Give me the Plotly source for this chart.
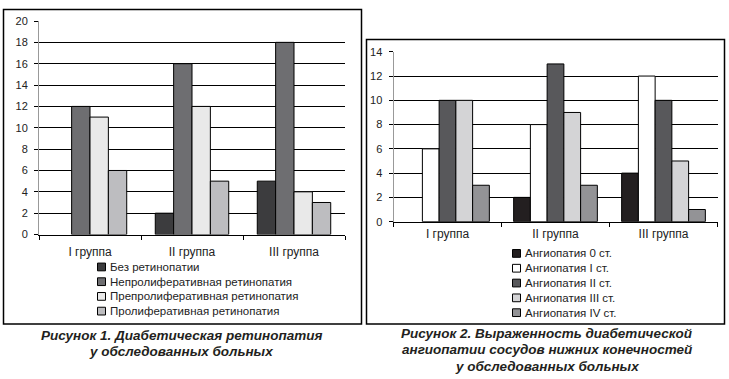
import plotly.graph_objects as go

W, H = 729, 379

# ---------- data ----------
groups = ["I группа", "II группа", "III группа"]

retino_names = ["Без ретинопатии", "Непролиферативная ретинопатия",
                "Препролиферативная ретинопатия", "Пролиферативная ретинопатия"]
retino_none = [0, 2, 5]
retino_nonprolif = [12, 16, 18]
retino_preprolif = [11, 12, 4]
retino_prolif = [6, 5, 3]
retino_values = [retino_none, retino_nonprolif, retino_preprolif, retino_prolif]
retino_colors = ["#3c3c3e", "#6e6e71", "#e9e9e9", "#bdbdc0"]

angio_names = ["Ангиопатия 0 ст.", "Ангиопатия I ст.", "Ангиопатия II ст.",
               "Ангиопатия III ст.", "Ангиопатия IV ст."]
angio_0 = [0, 2, 4]
angio_1 = [6, 8, 12]
angio_2 = [10, 13, 10]
angio_3 = [10, 9, 5]
angio_4 = [3, 3, 1]
angio_values = [angio_0, angio_1, angio_2, angio_3, angio_4]
angio_colors = ["#231f20", "#ffffff", "#58585b", "#d4d4d6", "#939396"]

caption1_lines = ["Рисунок 1. Диабетическая ретинопатия", "у обследованных больных"]
caption2_lines = ["Рисунок 2. Выраженность диабетической",
                  "ангиопатии сосудов нижних конечностей", "у обследованных больных"]

FONT = "Liberation Sans, Arial, sans-serif"


def px(x):
    return x / W


def py(y):
    return 1 - y / H


fig = go.Figure()


def add_bars(names, values, colors, bw, xa, ya):
    n = len(names)
    for i, (name, vals, col) in enumerate(zip(names, values, colors)):
        fig.add_trace(go.Bar(x=groups, y=vals, name=name, marker_color=col,
                             width=bw, offset=-n * bw / 2 + i * bw,
                             marker_line=dict(color="#000000",
                                              width=[0 if v == 0 else 1 for v in vals]),
                             xaxis=xa, yaxis=ya, showlegend=False))


add_bars(retino_names, retino_values, retino_colors, 0.18, "x", "y")
add_bars(angio_names, angio_values, angio_colors, 0.155, "x2", "y2")


def xaxis_style(standoff):
    return dict(type="category", tickson="boundaries", ticks="outside", ticklen=4,
                tickcolor="#000", showline=True, linecolor="#000", linewidth=1,
                showgrid=False, ticklabelstandoff=standoff,
                tickfont=dict(family=FONT, size=12, color="#222"))


axis_common_y = dict(ticks="outside", ticklen=4, tickcolor="#000", showline=True,
                     linecolor="#999", linewidth=1, showgrid=True, gridcolor="#000",
                     gridwidth=1, zeroline=False, dtick=2, ticklabelstandoff=4,
                     tickfont=dict(family=FONT, size=11, color="#222"))

fig.update_layout(
    width=W, height=H,
    margin=dict(l=0, r=0, t=0, b=0),
    paper_bgcolor="white", plot_bgcolor="white",
    barmode="overlay",
    showlegend=False,
    xaxis=dict(domain=[px(39), px(345)], anchor="y", **xaxis_style(6)),
    yaxis=dict(domain=[py(236), py(15.5)], anchor="x", range=[0, 20], **axis_common_y),
    xaxis2=dict(domain=[px(393.5), px(717.5)], anchor="y2", **xaxis_style(1)),
    yaxis2=dict(domain=[py(222.7), py(47.3)], anchor="x2", range=[0, 14], **axis_common_y),
)

shapes = []
annotations = []

# panel frames
shapes.append(dict(type="rect", xref="paper", yref="paper", x0=px(3.5), x1=px(361.5),
                   y0=py(328.5), y1=py(3.5), line=dict(color="#000", width=1.5)))
shapes.append(dict(type="rect", xref="paper", yref="paper", x0=px(366.5), x1=px(724.5),
                   y0=py(328.5), y1=py(34.5), line=dict(color="#000", width=1.5)))


def add_legend(names, colors, x_sw, y0, step):
    for i, (n, c) in enumerate(zip(names, colors)):
        yc = y0 + i * step
        shapes.append(dict(type="rect", xref="paper", yref="paper",
                           x0=px(x_sw), x1=px(x_sw + 8), y0=py(yc + 4), y1=py(yc - 4),
                           fillcolor=c, line=dict(color="#000", width=1)))
        annotations.append(dict(text=n, xref="paper", yref="paper", x=px(x_sw + 10), y=py(yc),
                                xanchor="left", yanchor="middle", showarrow=False,
                                font=dict(family=FONT, size=11.5, color="#222")))


add_legend(retino_names, retino_colors, 97.5, 269.5, 15.2)
add_legend(angio_names, angio_colors, 512.5, 255.5, 15.3)


def add_caption(lines, xc, y0, step):
    for i, t in enumerate(lines):
        annotations.append(dict(text="<b><i>" + t + "</i></b>", xref="paper", yref="paper",
                                x=px(xc), y=py(y0 + i * step), xanchor="center",
                                yanchor="middle", showarrow=False,
                                font=dict(family=FONT, size=13.5, color="#231f20")))


add_caption(caption1_lines, 181, 340, 17)
add_caption(caption2_lines, 547, 338, 17)

fig.update_layout(shapes=shapes, annotations=annotations)

fig.write_html("out.html", config={"displayModeBar": False})

# remove the browser's default page margin so the figure sits at (0, 0)
with open("out.html", "r", encoding="utf-8") as f:
    html = f.read()
html = html.replace("<head>", "<head><style>html,body{margin:0;padding:0;overflow:hidden;}</style>", 1)
with open("out.html", "w", encoding="utf-8") as f:
    f.write(html)
